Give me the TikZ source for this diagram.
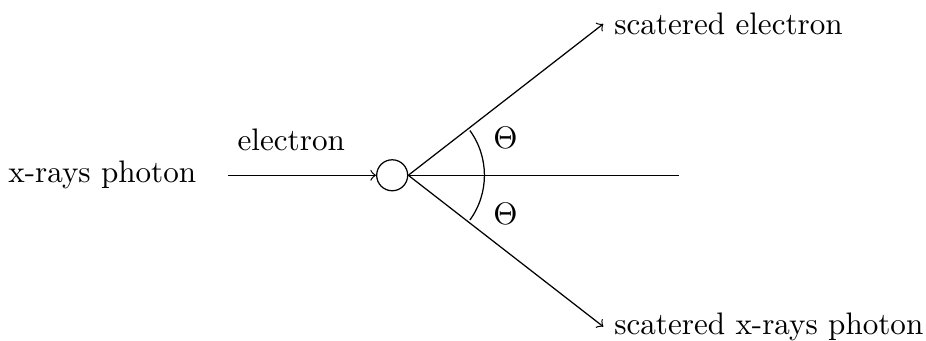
\documentclass[tikz,border=0pt]{standalone}
\begin{document}
\begin{tikzpicture}[
  particle/.style={draw, circle, minimum size=0.35cm, inner sep=0pt},
  ray/.style={->},
  lbl/.style={inner sep=0.333em}
]
\useasboundingbox (-4.43,-1.87) rectangle (6.03,1.98);
\node[particle] (e) at (0,0) {};
\coordinate (in) at (-1.853,0);
\coordinate (hz) at (3.243,0);
\coordinate (ue) at (2.385,1.71);
\coordinate (le) at (2.385,-1.71);
\draw[ray] (in) -- (e.west);
\draw (e.east) -- (hz);
\draw[ray] (e.east) -- (ue);
\draw[ray] (e.east) -- (le);
\draw (e.east) ++(-36:0.86) arc[start angle=-36, end angle=36, radius=0.86];
\node[lbl, anchor=east] (xr) at (-2.09,0) {x-rays photon};
\node[lbl] (el) at (-1.14,0.40) {electron};
\node[lbl, anchor=west] (se) at (ue) {scatered electron};
\node[lbl, anchor=west] (sx) at (le) {scatered x-rays photon};
\node[lbl] (t1) at (1.28,0.42) {$\Theta$};
\node[lbl] (t2) at (1.28,-0.44) {$\Theta$};
\end{tikzpicture}
\end{document}
